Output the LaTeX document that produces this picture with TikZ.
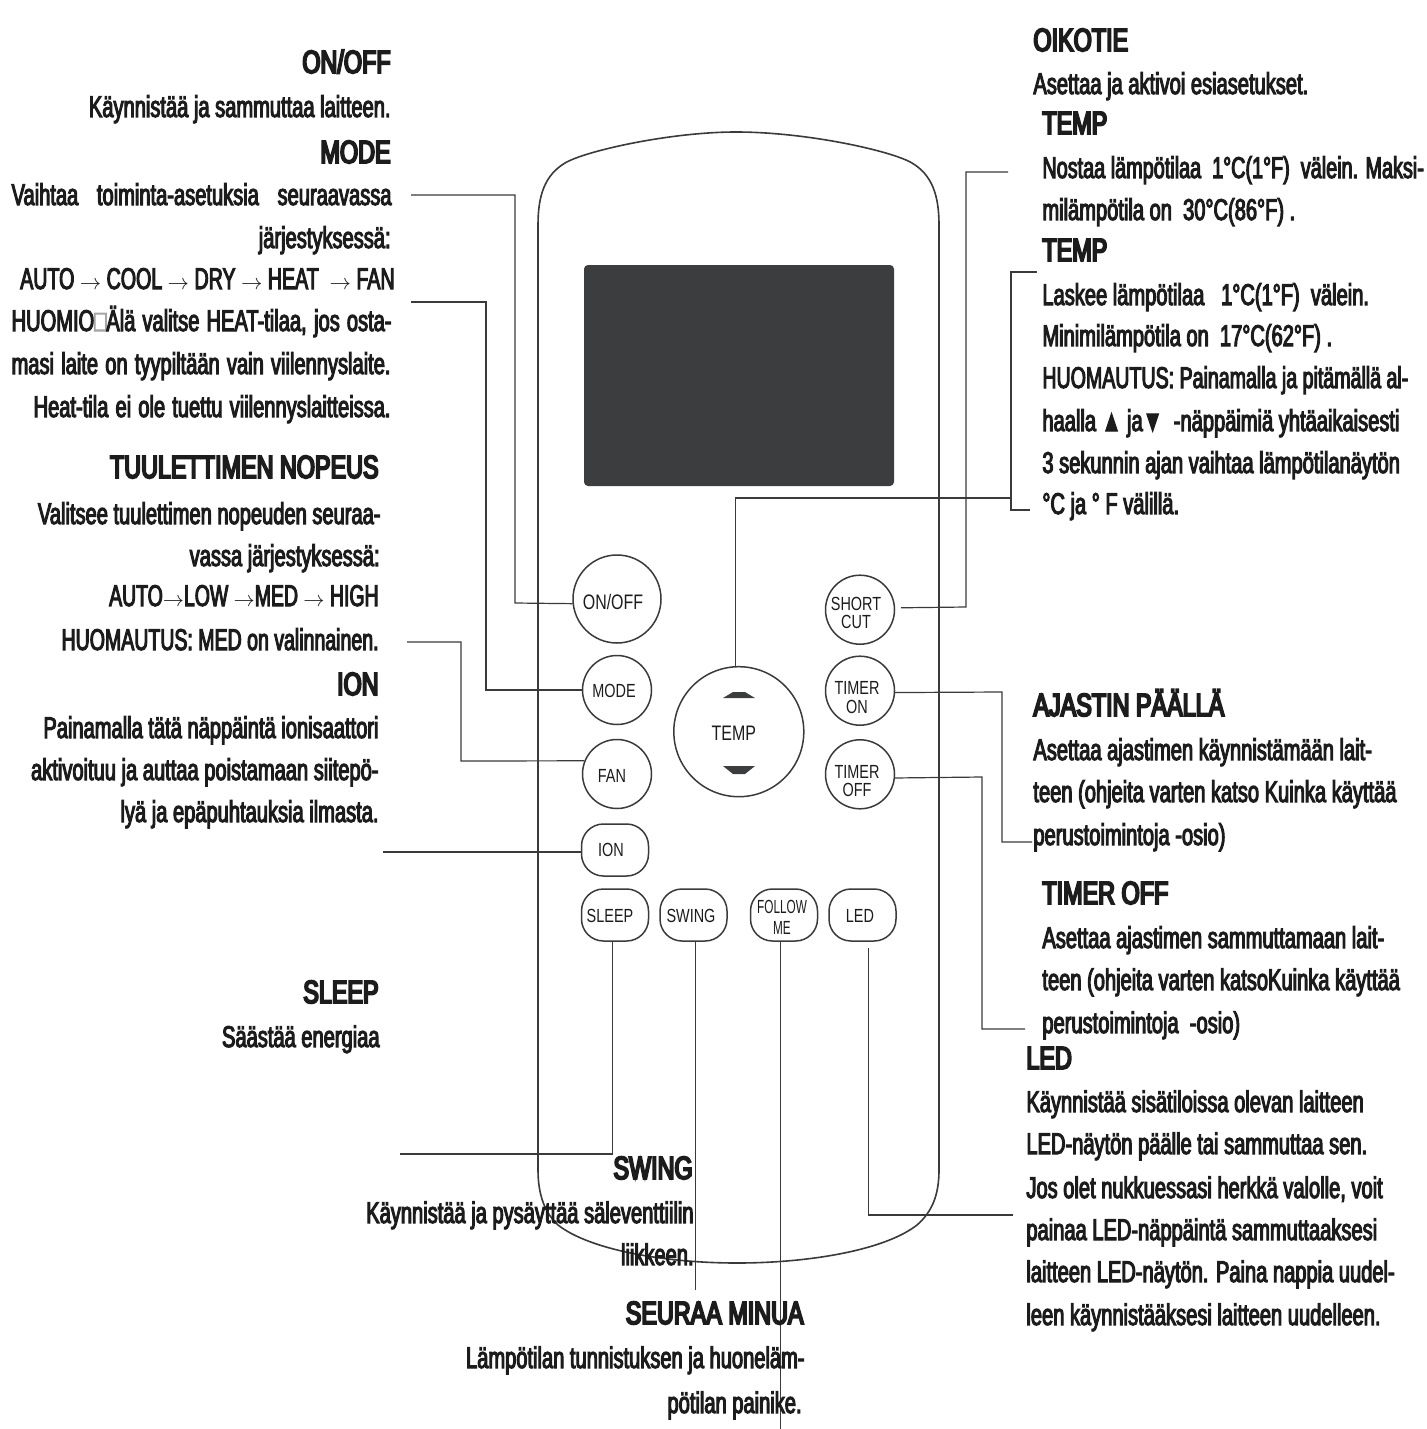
\documentclass[tikz,border=0pt]{standalone}
\usepackage{fontspec}
\setmainfont[FakeStretch=0.76]{Liberation Sans}
\newfontfamily\bodyfont[RawFeature={extend=0.67;embolden=3.5}]{Liberation Sans}
\newfontfamily\headfont[RawFeature={extend=0.73;embolden=6}]{Liberation Sans}
\newfontfamily\narrowfont[FakeStretch=0.62]{Liberation Sans}
\newcommand{\smallarrow}{{\fontsize{10.5}{10.5}\selectfont$\rightarrow$}}
\definecolor{inkc}{HTML}{1C1C1C}
\definecolor{linec}{HTML}{3A3A3A}
\definecolor{screenc}{HTML}{3C3D3F}
\begin{document}
\begin{tikzpicture}[x=0.5pt,y=-0.5pt]
    \tikzset{
        every node/.style={inner sep=0pt,text=inkc},
        txt/.style={font=\bodyfont\fontsize{15}{18}\selectfont,text height=11pt,text depth=0pt},
        rtxt/.style={txt,anchor=east},
        ltxt/.style={txt,anchor=west},
        rhead/.style={rtxt,font=\headfont\fontsize{16}{18}\selectfont},
        lhead/.style={ltxt,font=\headfont\fontsize{16}{18}\selectfont},
        btntxt/.style={align=center,font=\fontsize{9.5}{9.2}\selectfont},
        btn/.style={draw=linec,line width=0.75pt,circle,minimum size=34.5pt},
        pill/.style={draw=linec,line width=0.75pt,rectangle,rounded corners=11pt,minimum width=33.5pt,minimum height=26pt},
        leader/.style={draw=linec,line width=0.6pt}
    }
    \useasboundingbox (0,0) rectangle (1426,1429);
    % remote body
    \draw [linec,line width=0.8pt] (538,225) .. controls (538,195) and (545,175) .. (565,163)
        .. controls (585,151) and (670,132) .. (736,132)
        .. controls (807,132) and (892,151) .. (912,163)
        .. controls (932,175) and (939,195) .. (939,225)
        -- (939,1170) .. controls (939,1195) and (932,1212) .. (917,1225)
        .. controls (885,1250) and (810,1263) .. (737,1263)
        .. controls (665,1263) and (590,1250) .. (558,1225)
        .. controls (545,1213) and (538,1195) .. (538,1170) -- cycle;
    \fill [screenc,rounded corners=2pt] (584,265) rectangle (894,486);
    % buttons
    \node [btn,minimum size=44pt,label={[btntxt,font=\fontsize{10.5}{10}\selectfont,shift={(-4,3)}]center:ON/OFF}] (onoff) at (617,599) {};
    \node [btn,label={[btntxt,shift={(-3,1)}]center:MODE}] (mode) at (617,690) {};
    \node [btn,label={[btntxt,shift={(-5,2)}]center:FAN}] (fan) at (617,774) {};
    \node [pill,label={[btntxt,shift={(-4,0)}]center:ION}] (ion) at (615,850) {};
    \node [pill,label={[btntxt,shift={(-5,1)}]center:SLEEP}] (sleep) at (615,915) {};
    \node [pill,label={[btntxt,shift={(-2.5,1)}]center:SWING}] (swing) at (693.5,915) {};
    \node [pill,label={[btntxt,font=\narrowfont\fontsize{9.5}{10.5}\selectfont,shift={(-2,2.5)}]center:FOLLOW\\ME}] (follow) at (784,915) {};
    \node [pill,label={[btntxt,shift={(-2.5,1)}]center:LED}] (led) at (862.5,915) {};
    \node [btn,minimum size=65pt,label={[btntxt,font=\fontsize{10.5}{10}\selectfont,shift={(-5,1.5)}]center:TEMP}] (temp) at (738.8,731.7) {};
    \node [btn,label={[btntxt,shift={(-4,3)}]center:SHORT\\CUT}] (short) at (860,609.7) {};
    \node [btn,label={[btntxt,shift={(-3,7)}]center:TIMER\\ON}] (timeron) at (860,690.7) {};
    \node [btn,label={[btntxt,shift={(-3,7)}]center:TIMER\\OFF}] (timeroff) at (860,774.3) {};
    \fill [screenc] (723,698) -- (733,692) -- (745,692) -- (755,698) -- cycle;
    \fill [screenc] (723,766) -- (755,766) -- (745,774) -- (733,774) -- cycle;
    % free ends of the leader lines
    \coordinate (onoffend) at (411,195);
    \coordinate (onoffbend) at (515,603);
    \coordinate (modeend) at (411,302);
    \coordinate (modebend) at (486,690);
    \coordinate (fanend) at (407,642);
    \coordinate (fanbend) at (461,761);
    \coordinate (ionend) at (383,852);
    \coordinate (sleepend) at (400,1154);
    \coordinate (swingend) at (696,1290);
    \coordinate (followend) at (781,1429);
    \coordinate (ledend) at (1013,1215);
    \coordinate (shortend) at (1008,172);
    \coordinate (shortbend) at (966,607);
    \coordinate (tempend) at (1011,498);
    \coordinate (brtop) at (1037,272);
    \coordinate (brbot) at (1030,510);
    \coordinate (bend) at (1011,272);
    \coordinate (timeronend) at (1032,842);
    \coordinate (timeronbend) at (1002,692);
    \coordinate (timeroffend) at (1025,1029);
    \coordinate (timeroffbend) at (982,777);
    % leader lines
    \draw [leader] (onoffend) -| (onoffbend) -- (onoff.186);
    \draw [leader] (modeend) -| (modebend) -- (mode.west);
    \draw [leader] (fanend) -| (fanbend) -- (fan.158);
    \draw [leader] (ionend) -- (ionend -| ion.west);
    \draw [leader] (sleepend) -| (sleep.265);
    \draw [leader] (swing.274) -- (swing.274 |- swingend);
    \draw [leader] (follow.263) -- (follow.263 |- followend);
    \draw [leader,shorten <=3pt] (led.283) |- (ledend);
    \draw [leader,shorten <=3pt] (short.3) -- (shortbend) |- (shortend);
    \draw [leader] (temp.93) |- (tempend);
    \draw [leader] (brtop) -- (bend) |- (brbot);
    \draw [leader] (timeron.357) -- (timeronbend) |- (timeronend);
    \draw [leader] (timeroff.354) -- (timeroffbend) |- (timeroffend);
    % left column
    \node [rhead] (onofftitle) at (391,62) {ON/OFF};
    \node [rtxt] (onofftext) at (391,106) {Käynnistää ja sammuttaa laitteen.};
    \node [rhead] (modetitle) at (391,152) {MODE};
    \node [rtxt] (modetexta) at (392,194) {\makebox[190pt][s]{Vaihtaa\hfil toiminta-asetuksia\hfil seuraavassa}};
    \node [rtxt] (modetextb) at (391,237) {järjestyksessä:};
    \node [rtxt] (modetextc) at (395,278) {\scalebox{0.976}[1]{AUTO \smallarrow{} COOL \smallarrow{} DRY \smallarrow{} HEAT\ \ \smallarrow{} FAN}};
    \node [rtxt] (modetextd) at (392,320) {\makebox[190pt][s]{HUOMIO{\color{black!35}□}Älä valitse HEAT-tilaa, jos osta-}};
    \node [rtxt] (modetexte) at (391,363) {\makebox[189.5pt][s]{masi laite on tyypiltään vain viilennyslaite.}};
    \node [rtxt] (modetextf) at (391,406) {\makebox[178.5pt][s]{Heat-tila ei ole tuettu viilennyslaitteissa.}};
    \node [rhead] (fantitle) at (379,467) {TUULETTIMEN NOPEUS};
    \node [rtxt] (fantexta) at (381,513) {Valitsee tuulettimen nopeuden seuraa-};
    \node [rtxt] (fantextb) at (380,555) {vassa järjestyksessä:};
    \node [rtxt] (fantextc) at (379,595) {\scalebox{0.967}[1]{AUTO\smallarrow{}LOW \smallarrow{}MED \smallarrow{} HIGH}};
    \node [rtxt] (fantextd) at (379,639) {\scalebox{0.972}[1]{HUOMAUTUS: MED on valinnainen.}};
    \node [rhead] (iontitle) at (379,684) {ION};
    \node [rtxt] (iontexta) at (379,727) {Painamalla tätä näppäintä ionisaattori};
    \node [rtxt] (iontextb) at (379,769) {aktivoituu ja auttaa poistamaan siitepö-};
    \node [rtxt] (iontextc) at (379,811) {lyä ja epäpuhtauksia ilmasta.};
    \node [rhead] (sleeptitle) at (379,992) {SLEEP};
    \node [rtxt] (sleeptext) at (380,1036) {Säästää energiaa};
    \node [rhead] (swingtitle) at (693,1168) {SWING};
    \node [rtxt] (swingtexta) at (694,1212) {Käynnistää ja pysäyttää säleventtiilin};
    \node [rtxt] (swingtextb) at (694,1254) {liikkeen.};
    \node [rhead] (followtitle) at (804,1313) {SEURAA MINUA};
    \node [rtxt] (followtexta) at (805,1357) {Lämpötilan tunnistuksen ja huoneläm-};
    \node [rtxt] (followtextb) at (802,1402) {pötilan painike.};
    % right column
    \node [lhead] (shorttitle) at (1033,40) {OIKOTIE};
    \node [ltxt] (shorttext) at (1033,83) {Asettaa ja aktivoi esiasetukset.};
    \node [lhead] (uptitle) at (1042,123) {TEMP};
    \node [ltxt] (uptexta) at (1042,167) {\scalebox{0.987}[1]{Nostaa lämpötilaa\ \ 1°C(1°F)\ \ välein. Maksi-}};
    \node [ltxt] (uptextb) at (1042,209) {milämpötila on\ \ 30°C(86°F) .};
    \node [lhead] (downtitle) at (1042,250) {TEMP};
    \node [ltxt] (downtexta) at (1042,294) {Laskee lämpötilaa\ \ \ 1°C(1°F)\ \ välein.};
    \node [ltxt] (downtextb) at (1042,335) {Minimilämpötila on\ \ 17°C(62°F) .};
    \node [ltxt] (downtextc) at (1042,377) {\scalebox{0.975}[1]{HUOMAUTUS: Painamalla ja pitämällä al-}};
    \node [ltxt] (downtextd) at (1042,420) {haalla ▲\ ja▼\ \ -näppäimiä yhtäaikaisesti};
    \node [ltxt] (downtexte) at (1042,462) {3 sekunnin ajan vaihtaa lämpötilanäytön};
    \node [ltxt] (downtextf) at (1042,503) {°C ja ° F välillä.};
    \node [lhead] (timerontitle) at (1033,705) {AJASTIN PÄÄLLÄ};
    \node [ltxt] (timerontexta) at (1033,749) {Asettaa ajastimen käynnistämään lait-};
    \node [ltxt] (timerontextb) at (1033,791) {teen (ohjeita varten katso Kuinka käyttää};
    \node [ltxt] (timerontextc) at (1033,834) {perustoimintoja -osio)};
    \node [lhead] (timerofftitle) at (1042,893) {TIMER OFF};
    \node [ltxt] (timerofftexta) at (1042,937) {Asettaa ajastimen sammuttamaan lait-};
    \node [ltxt] (timerofftextb) at (1042,979) {teen (ohjeita varten katsoKuinka käyttää};
    \node [ltxt] (timerofftextc) at (1042,1022) {perustoimintoja\ \ -osio)};
    \node [lhead] (ledtitle) at (1026,1058) {LED};
    \node [ltxt] (ledtexta) at (1026,1101) {Käynnistää sisätiloissa olevan laitteen};
    \node [ltxt] (ledtextb) at (1026,1143) {LED-näytön päälle tai sammuttaa sen.};
    \node [ltxt] (ledtextc) at (1026,1187) {Jos olet nukkuessasi herkkä valolle, voit};
    \node [ltxt] (ledtextd) at (1026,1229) {painaa LED-näppäintä sammuttaaksesi};
    \node [ltxt] (ledtexte) at (1026,1271) {laitteen LED-näytön. Paina nappia uudel-};
    \node [ltxt] (ledtextf) at (1026,1314) {leen käynnistääksesi laitteen uudelleen.};
\end{tikzpicture}
\end{document}
